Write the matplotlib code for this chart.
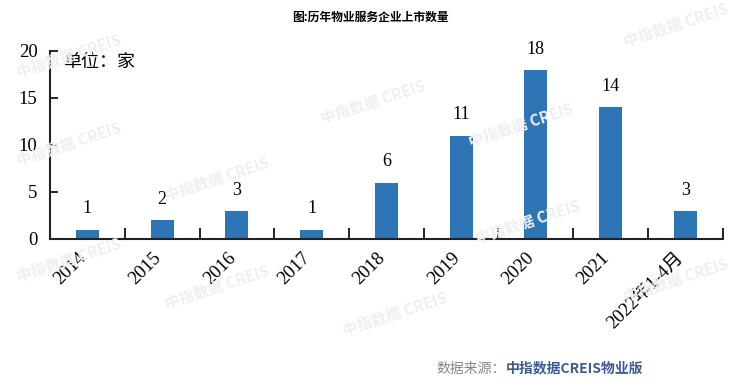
import matplotlib
matplotlib.use("Agg")
import matplotlib.pyplot as plt
import matplotlib.transforms as mtransforms
import numpy as np

categories = ["2014", "2015", "2016", "2017", "2018", "2019", "2020", "2021", "2022年1-4月"]
values = [1, 2, 3, 1, 6, 11, 18, 14, 3]
yticks = [0, 5, 10, 15, 20]

serif = ["Liberation Serif", "Noto Sans CJK SC"]
cjk = ["Noto Sans CJK SC", "DejaVu Sans"]

fig = plt.figure(figsize=(7.4, 3.86), dpi=100)
ax = fig.add_axes([0.0676, 0.381, 0.909, 0.487])

# watermarks
wm = [(0.02, 0.80), (0.43, 0.68), (0.02, 0.57), (0.22, 0.48), (0.63, 0.62),
      (0.64, 0.37), (0.02, 0.27), (0.22, 0.20), (0.46, 0.13),
      (0.84, 0.22), (0.84, 0.88)]
for (x, y) in wm:
    fig.text(x, y, "中指数据 CREIS", fontsize=11, color="#efefef", rotation=18,
             family=cjk, fontweight="bold", zorder=0)

x = np.arange(len(categories))
ax.bar(x, values, width=0.31, color="#2E75B6", zorder=2)
for xi, v in zip(x, values):
    ax.text(xi, v + 1.3, str(v), ha="center", va="bottom", fontsize=13, family=serif)

ax.set_xlim(-0.5, len(categories) - 0.5)
ax.set_ylim(0, 20)
ax.set_yticks(yticks)
ax.set_yticklabels([str(t) for t in yticks], family=serif, fontsize=13.5)
ax.tick_params(axis="y", direction="in", length=6, width=1.2, pad=9)
ax.set_xticks(x)
ax.set_xticklabels(categories, rotation=45, ha="right", rotation_mode="anchor",
                   family=serif, fontsize=13.5)
ax.tick_params(axis="x", length=0, pad=6)
off = mtransforms.ScaledTranslation(-10 / 100, -2 / 100, fig.dpi_scale_trans)
for lab in ax.get_xticklabels():
    lab.set_transform(lab.get_transform() + off)
ax.set_xticks(np.arange(len(categories) + 1) - 0.5, minor=True)
ax.tick_params(axis="x", which="minor", direction="in", length=8, width=1.2)

for s in ["top", "right"]:
    ax.spines[s].set_visible(False)
for s in ["left", "bottom"]:
    ax.spines[s].set_linewidth(1.5)
    ax.spines[s].set_color("#222222")
ax.patch.set_alpha(0)

ax.text(0.02, 0.99, "单位：家", transform=ax.transAxes, ha="left", va="top",
        fontsize=13, family=cjk)

fig.text(0.5, 0.955, "图:历年物业服务企业上市数量", ha="center", va="center",
         fontsize=8.5, fontweight="bold", family=cjk)

t1 = fig.text(0.59, 0.045, "数据来源：", ha="left", va="center", fontsize=10,
              family=cjk, color="#888888")
fig.canvas.draw()
bb = t1.get_window_extent()
xe = fig.transFigure.inverted().transform((bb.x1, bb.y0))[0]
fig.text(xe, 0.045, "中指数据CREIS物业版", ha="left", va="center", fontsize=10,
         family=cjk, color="#3B5A96", fontweight="bold")

fig.savefig("out.png", dpi=100)
